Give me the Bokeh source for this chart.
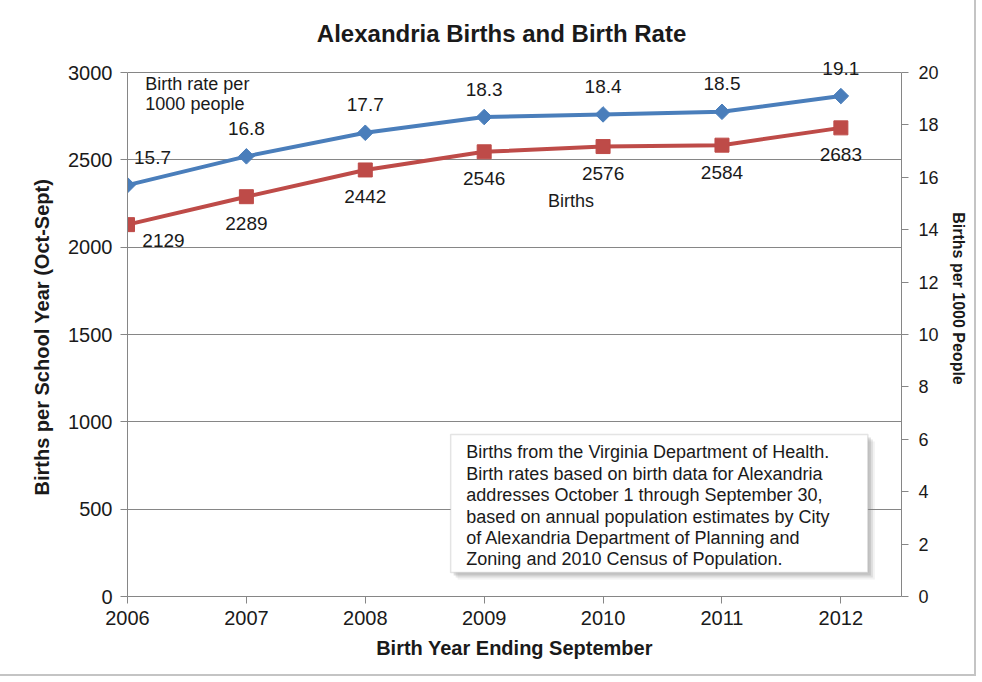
from bokeh.plotting import figure
from bokeh.models import Range1d, LinearAxis, FixedTicker, Label, BoxAnnotation, Title
from bokeh.embed import file_html
from bokeh.resources import INLINE
import numpy as np

# ---- data ----
years = [2006, 2007, 2008, 2009, 2010, 2011, 2012]
births = [2129, 2289, 2442, 2546, 2576, 2584, 2683]
birth_rate = [15.7, 16.8, 17.7, 18.3, 18.4, 18.5, 19.1]
left_ticks = [0, 500, 1000, 1500, 2000, 2500, 3000]
right_ticks = [0, 2, 4, 6, 8, 10, 12, 14, 16, 18, 20]

title_text = "Alexandria Births and Birth Rate"
x_label = "Birth Year Ending September"
y_label = "Births per School Year (Oct-Sept)"
y2_label = "Births per 1000 People"
note_text = ("Births from the Virginia Department of Health.\n"
             "Birth rates based on birth data for Alexandria\n"
             "addresses October 1 through September 30,\n"
             "based on annual population estimates by City\n"
             "of Alexandria Department of Planning and\n"
             "Zoning and 2010 Census of Population.")

FONT = "Liberation Sans"
BLUE = "#4A7EBB"
RED = "#BE4B48"
AXIS_GRAY = "#868686"
TXT = "#1a1a1a"

# The frame also covers the title strip above the 3000 line, so that labels
# placed there are not clipped; the axes are bounded to the data extent.
PLOT_H = 524          # pixel height of the 0..3000 span
TOP_PAD = 72          # pixel strip above it (title area)
y_top = 3000 * (PLOT_H + TOP_PAD) / PLOT_H
r_top = 20 * (PLOT_H + TOP_PAD) / PLOT_H

p = figure(frame_width=774, frame_height=PLOT_H + TOP_PAD,
           min_border_left=127, min_border_right=73, min_border_top=0, min_border_bottom=78,
           x_range=Range1d(2006, 2012.51), y_range=Range1d(0, y_top),
           output_backend="svg", toolbar_location=None)
p.extra_y_ranges = {"rate": Range1d(0, r_top)}
p.outline_line_color = None
p.background_fill_color = "white"
p.border_fill_color = "white"
p.styles = {"outline": "2px solid #c4c4c4"}

def style_axis(ax, size, lab_size):
    ax.axis_line_color = AXIS_GRAY
    ax.major_tick_line_color = AXIS_GRAY
    ax.minor_tick_line_color = None
    ax.major_tick_in = 0
    ax.major_tick_out = 7
    ax.major_label_text_font = FONT
    ax.major_label_text_font_size = size
    ax.major_label_text_color = TXT
    ax.axis_label_text_font = FONT
    ax.axis_label_text_font_size = lab_size
    ax.axis_label_text_font_style = "bold"
    ax.axis_label_text_color = TXT

xa = p.xaxis[0]
style_axis(xa, "20px", "20px")
xa.ticker = FixedTicker(ticks=years)
xa.axis_label = x_label
xa.major_label_standoff = 7
xa.axis_label_standoff = 9

ya = p.yaxis[0]
style_axis(ya, "20px", "20px")
ya.ticker = FixedTicker(ticks=left_ticks)
ya.bounds = (0, 3000)
ya.major_label_standoff = 8

# left axis title, centred on the 0..3000 span rather than on the whole frame
p.add_layout(Title(text=y_label, align="left", offset=101, standoff=26,
                   text_font=FONT, text_font_size="20px", text_font_style="bold",
                   text_color=TXT), "left")

ra = LinearAxis(y_range_name="rate", ticker=FixedTicker(ticks=right_ticks), axis_label=y2_label,
                bounds=(0, 20))
style_axis(ra, "18px", "16px")
ra.major_label_standoff = 10
ra.axis_label_standoff = 8
p.add_layout(ra, "right")

p.xgrid.grid_line_color = None
p.ygrid.ticker = FixedTicker(ticks=left_ticks)
p.ygrid.grid_line_color = AXIS_GRAY
p.ygrid.grid_line_width = 1

# ---- title ----
p.add_layout(Label(x=2009.146, y=3223, text=title_text, text_align="center",
                   text_baseline="middle", text_font=FONT, text_font_size="24px",
                   text_font_style="bold", text_color=TXT))

# ---- series ----
p.line(years, births, line_color=RED, line_width=4)
p.scatter(years, births, marker="square", size=14, fill_color=RED, line_color=RED)
p.line(years, birth_rate, y_range_name="rate", line_color=BLUE, line_width=4)
p.scatter(years, birth_rate, y_range_name="rate", marker="square", angle=np.pi / 4,
          size=11, fill_color=BLUE, line_color=BLUE)

for i, (yr, r, b) in enumerate(zip(years, birth_rate, births)):
    p.add_layout(Label(x=yr, y=r, y_range_name="rate", text="%.1f" % r,
                       x_offset=25 if i == 0 else 0, y_offset=28,
                       text_align="center", text_baseline="middle", text_font=FONT,
                       text_font_size="19px", text_color=TXT))
    p.add_layout(Label(x=yr, y=b, text=str(b),
                       x_offset=36 if i == 0 else 0, y_offset=-16 if i == 0 else -27,
                       text_align="center", text_baseline="middle", text_font=FONT,
                       text_font_size="19px", text_color=TXT))

# series name labels
p.add_layout(Label(x=2006.15, y=2877, text="Birth rate per\n1000 people", text_align="left",
                   text_baseline="middle", text_font=FONT, text_font_size="18px",
                   text_line_height=1.0, text_color=TXT))
p.add_layout(Label(x=2009.73, y=2267, text="Births", text_align="center",
                   text_baseline="middle", text_font=FONT, text_font_size="18px",
                   text_color=TXT))

# note box with shadow
bx_l, bx_r, bx_t, bx_b = 2008.718, 2012.227, 927.5, 137.4
dx, dy = 1 / 118.9, 3000 / 524
for k, a in [(7, 0.10), (5, 0.18), (3, 0.25)]:
    p.add_layout(BoxAnnotation(left=bx_l + k * dx, right=bx_r + k * dx,
                               top=bx_t - k * dy, bottom=bx_b - k * dy,
                               fill_color="#7f7f7f", fill_alpha=a, line_color=None))
p.add_layout(BoxAnnotation(left=bx_l, right=bx_r, top=bx_t, bottom=bx_b,
                           fill_color="white", fill_alpha=1.0, line_color="#a6a6a6",
                           line_width=1.5))
p.add_layout(Label(x=2008.85, y=882, text=note_text, text_align="left", text_baseline="top",
                   text_font=FONT, text_font_size="18px", text_line_height=1.07,
                   text_color=TXT))

open("out.html", "w").write(file_html(p, INLINE))
